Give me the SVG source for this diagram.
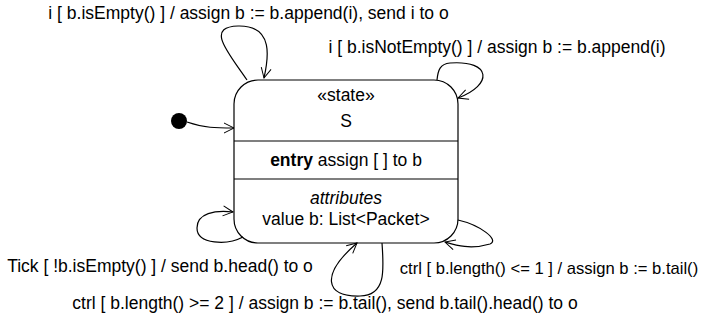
<svg xmlns="http://www.w3.org/2000/svg" width="713" height="322" viewBox="0 0 713 322">
<defs>
<marker id="open" viewBox="0 0 12 12" refX="11" refY="6" markerWidth="12" markerHeight="12" markerUnits="userSpaceOnUse" orient="auto">
<path d="M1,1 L11,6 L1,11" fill="none" stroke="#000" stroke-width="1"/>
</marker>
<style>
text{font-family:"Liberation Sans",Arial,sans-serif;font-size:17.5px;fill:#000}
.c{text-anchor:middle}
.edge{fill:none;stroke:#000;stroke-width:1.2;marker-end:url(#open)}
.b{font-weight:bold}
.i{font-style:italic}
</style>
</defs>
<rect width="713" height="322" fill="#fff"/>
<g id="initial"><circle cx="179" cy="121" r="8" fill="#000"/></g>
<g id="S">
<rect x="234" y="80" width="224" height="163" rx="24" ry="24" fill="#fff" stroke="#000" stroke-width="1.2"/>
<line x1="234" y1="141" x2="458" y2="141" stroke="#000" stroke-width="1.2"/>
<line x1="234" y1="179" x2="458" y2="179" stroke="#000" stroke-width="1.2"/>
<text class="c" x="346" y="101">«state»</text>
<text class="c" x="346" y="127">S</text>
<text class="c" x="346" y="166"><tspan class="b">entry</tspan> assign [ ] to b</text>
<text class="c i" x="346" y="204">attributes</text>
<text class="c" x="346" y="225">value b: List&lt;Packet&gt;</text>
</g>
<g id="connectors">
<path class="edge" d="M187,122 C205,128 215,128 234,128"/>
<path class="edge" d="M247,80 C228,52 205,27 238,26 C275,25 268,60 264,78"/>
<path class="edge" d="M437,80 C438,70 440,64 450,63 C492,60 493,85 458,98"/>
<path class="edge" d="M243,237 C228,245 197,245 197,228 C197,213 215,210 233,212"/>
<path class="edge" d="M382,243 C384,270 386,296 360,296 C325,297 320,275 357,243"/>
<path class="edge" d="M458,220 C480,225 500,240 490,244 C470,250 455,245 445,242"/>
</g>
<g id="labels">
<text class="c" x="248.5" y="19">i [ b.isEmpty() ] / assign b := b.append(i), send i to o</text>
<text class="c" x="497" y="53">i [ b.isNotEmpty() ] / assign b := b.append(i)</text>
<text class="c" x="160" y="272">Tick [ !b.isEmpty() ] / send b.head() to o</text>
<text class="c" x="549" y="274" style="font-size:16.6px">ctrl [ b.length() &lt;= 1 ] / assign b := b.tail()</text>
<text class="c" x="325" y="309">ctrl [ b.length() &gt;= 2 ] / assign b := b.tail(), send b.tail().head() to o</text>
</g>
</svg>
